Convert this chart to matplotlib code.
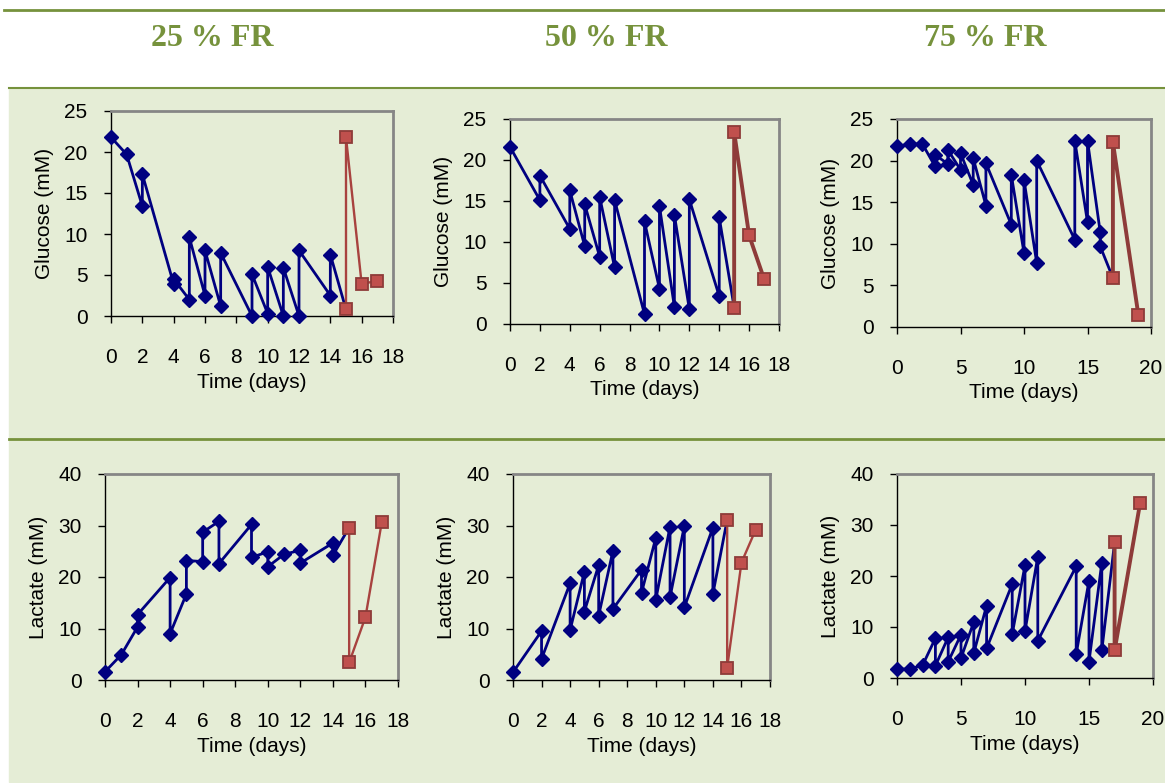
import matplotlib
matplotlib.use("Agg")
import matplotlib.pyplot as plt
from matplotlib.patches import Rectangle
from matplotlib.lines import Line2D

W, H = 1165, 783

# ── Data ──────────────────────────────────────────────────────────────────────
headers = ["25 % FR", "50 % FR", "75 % FR"]

# Glucose, 25 % FR
g25_t = [0, 1, 2, 2, 4, 4, 5, 5, 6, 6, 7, 7, 9, 9, 10, 10, 11, 11, 12, 12, 14, 14, 15]
g25_v = [21.8, 19.7, 13.4, 17.3, 3.9, 4.5, 2.0, 9.6, 2.5, 8.0, 1.2, 7.7, 0.0, 5.1,
         0.3, 6.0, 0.0, 5.9, 0.0, 8.0, 2.5, 7.5, 0.8]
g25_red_t = [15, 15, 16, 17]
g25_red_v = [0.8, 21.8, 3.9, 4.3]

# Glucose, 50 % FR
g50_t = [0, 2, 2, 4, 4, 5, 5, 6, 6, 7, 7, 9, 9, 10, 10, 11, 11, 12, 12, 14, 14, 15]
g50_v = [21.6, 15.1, 18.1, 11.6, 16.3, 9.5, 14.6, 8.2, 15.5, 6.9, 15.1, 1.2, 12.5,
         4.3, 14.4, 2.1, 13.3, 1.8, 15.2, 3.4, 13.0, 2.0]
g50_red_t = [15, 15, 16, 17]
g50_red_v = [2.0, 23.4, 10.8, 5.5]

# Glucose, 75 % FR
g75_t = [0, 1, 2, 3, 3, 4, 4, 5, 5, 6, 6, 7, 7, 9, 9, 10, 10, 11, 11, 14, 14,
         15, 15, 16, 16, 17]
g75_v = [21.7, 22.0, 22.0, 19.3, 20.7, 19.6, 21.3, 18.9, 20.9, 17.1, 20.3, 14.6,
         19.7, 12.3, 18.3, 8.9, 17.7, 7.7, 20.0, 10.5, 22.4, 12.6, 22.4, 11.4, 9.7, 5.9]
g75_red_t = [17, 17, 19]
g75_red_v = [5.9, 22.2, 1.5]

# Lactate, 25 % FR
l25_t = [0, 1, 2, 2, 4, 4, 5, 5, 6, 6, 7, 7, 9, 9, 10, 10, 11, 12, 12, 14, 14, 15]
l25_v = [1.6, 4.9, 10.3, 12.7, 19.9, 9.0, 16.7, 23.2, 23.0, 28.7, 30.8, 22.6, 30.2,
         23.8, 24.9, 22.0, 24.4, 25.2, 22.7, 26.6, 24.2, 29.6]
l25_red_t = [15, 15, 16, 17]
l25_red_v = [29.6, 3.4, 12.2, 30.6]

# Lactate, 50 % FR
l50_t = [0, 2, 2, 4, 4, 5, 5, 6, 6, 7, 7, 9, 9, 10, 10, 11, 11, 12, 12, 14, 14, 15]
l50_v = [1.5, 9.5, 4.1, 18.8, 9.7, 21.0, 13.3, 22.3, 12.5, 25.1, 13.8, 21.4, 16.9,
         27.6, 15.6, 29.8, 16.1, 29.9, 14.1, 29.6, 16.7, 31.1]
l50_red_t = [15, 15, 16, 17]
l50_red_v = [31.1, 2.4, 22.8, 29.2]

# Lactate, 75 % FR
l75_t = [0, 1, 2, 3, 3, 4, 4, 5, 5, 6, 6, 7, 7, 9, 9, 10, 10, 11, 11, 14, 14,
         15, 15, 16, 16, 17]
l75_v = [1.7, 1.8, 2.5, 7.8, 2.4, 8.0, 3.2, 8.5, 3.9, 11.0, 4.9, 14.2, 5.8, 18.4,
         8.6, 22.1, 9.2, 23.8, 7.3, 21.9, 4.7, 19.1, 3.2, 22.6, 5.4, 26.6]
l75_red_t = [17, 17, 19]
l75_red_v = [26.6, 5.4, 34.4]

# ── Colours ───────────────────────────────────────────────────────────────────
BG = "#E5EDD6"
GREEN = "#76923C"
NAVY = "#000080"
RED_FILL = "#C0504D"
RED_EDGE = "#8E3B39"

plt.rcParams["font.family"] = ["Liberation Sans", "DejaVu Sans"]

fig = plt.figure(figsize=(W / 100, H / 100), dpi=100, facecolor="white")


def rect(x0, y0, x1, y1, color):
    fig.patches.append(Rectangle((x0 / W, 1 - y1 / H), (x1 - x0) / W, (y1 - y0) / H,
                                 transform=fig.transFigure, color=color, zorder=-10))


def hline(y, x0, x1, lw):
    fig.lines.append(Line2D([x0 / W, x1 / W], [1 - y / H, 1 - y / H],
                            transform=fig.transFigure, color=GREEN, lw=lw, zorder=-5))


# table-like background
rect(9, 88, W, 782, BG)
hline(10, 4, W, 2.0)
hline(87.5, 9, W, 1.5)
hline(439, 9, W, 2.0)

for txt, cx in zip(headers, [212, 606, 985]):
    fig.text(cx / W, 1 - 38 / H, txt, ha="center", va="center", color=GREEN,
             fontsize=23, fontweight="bold", family="Liberation Serif")


def panel(box, t, v, rt, rv, xmax, xstep, ymax, ystep, ylabel, red_lw):
    x0, y0, x1, y1 = box
    ax = fig.add_axes([x0 / W, 1 - y1 / H, (x1 - x0) / W, (y1 - y0) / H])
    ax.set_facecolor("none")
    # last blue point sits under the first red square: line only, no marker
    ax.plot(t, v, color=NAVY, lw=2.0, marker="D", ms=7, mec=NAVY, mfc=NAVY,
            markevery=list(range(len(t) - 1)), clip_on=False, zorder=3)
    ax.plot(rt, rv, color=RED_EDGE if red_lw > 2 else "#A8423F", lw=red_lw,
            marker="s", ms=9, mfc=RED_FILL, mec=RED_EDGE, mew=1.3,
            clip_on=False, zorder=4)
    ax.set_xlim(0, xmax)
    ax.set_ylim(0, ymax)
    ax.set_xticks(range(0, xmax + 1, xstep))
    ax.set_yticks(range(0, ymax + 1, ystep))
    for s in ("top", "right"):
        ax.spines[s].set_color("#868686")
        ax.spines[s].set_linewidth(2)
    for s in ("left", "bottom"):
        ax.spines[s].set_color("black")
        ax.spines[s].set_linewidth(1)
    ax.tick_params(axis="x", direction="out", length=5, width=1, pad=18, labelsize=15)
    ax.tick_params(axis="y", direction="out", length=5, width=1, pad=12, labelsize=15)
    ax.set_xlabel("Time (days)", fontsize=15, labelpad=4)
    ax.set_ylabel(ylabel, fontsize=15, labelpad=7)
    return ax


panel((111, 111, 393, 316), g25_t, g25_v, g25_red_t, g25_red_v, 18, 2, 25, 5, "Glucose (mM)", 1.7)
panel((510, 119, 779, 324), g50_t, g50_v, g50_red_t, g50_red_v, 18, 2, 25, 5, "Glucose (mM)", 2.8)
panel((897, 119, 1151, 327), g75_t, g75_v, g75_red_t, g75_red_v, 20, 5, 25, 5, "Glucose (mM)", 2.8)
panel((105, 474, 398, 680), l25_t, l25_v, l25_red_t, l25_red_v, 18, 2, 40, 10, "Lactate (mM)", 1.7)
panel((513, 474, 770, 680), l50_t, l50_v, l50_red_t, l50_red_v, 18, 2, 40, 10, "Lactate (mM)", 1.7)
panel((897, 474, 1153, 678), l75_t, l75_v, l75_red_t, l75_red_v, 20, 5, 40, 10, "Lactate (mM)", 2.8)

fig.savefig("out.png", dpi=100, facecolor="white")
